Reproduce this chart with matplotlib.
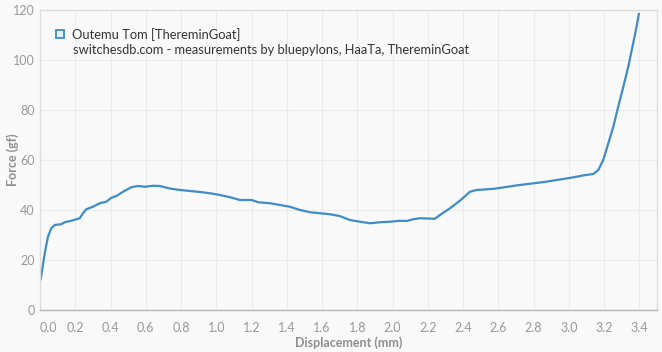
import matplotlib.pyplot as plt
from matplotlib.lines import Line2D

# force curve (displacement mm, force gf)
disp = [0.004, 0.027, 0.045, 0.064, 0.083, 0.12, 0.14, 0.178, 0.225, 0.244,
        0.263, 0.30, 0.339, 0.376, 0.405, 0.433, 0.471, 0.518, 0.556, 0.594,
        0.641, 0.679, 0.736, 0.794, 0.851, 0.908, 0.964, 1.021, 1.078, 1.134,
        1.20, 1.238, 1.305, 1.361, 1.418, 1.475, 1.531, 1.588, 1.645, 1.70,
        1.758, 1.815, 1.872, 1.928, 1.985, 2.042, 2.08, 2.117, 2.155, 2.24,
        2.269, 2.326, 2.382, 2.439, 2.477, 2.577, 2.71, 2.86, 3.012, 3.087,
        3.139, 3.167, 3.195, 3.224, 3.252, 3.280, 3.309, 3.337, 3.365, 3.384,
        3.397]
force = [12.3, 22.7, 29.3, 32.7, 34.0, 34.3, 35.1, 35.7, 36.7, 38.7,
         40.3, 41.3, 42.7, 43.3, 44.9, 45.6, 47.3, 49.1, 49.6, 49.3,
         49.7, 49.6, 48.6, 48.0, 47.6, 47.2, 46.7, 46.0, 45.1, 44.0,
         44.0, 43.1, 42.7, 42.0, 41.3, 40.0, 39.1, 38.7, 38.3, 37.6,
         36.0, 35.3, 34.7, 35.1, 35.3, 35.7, 35.6, 36.3, 36.7, 36.5,
         38.0, 40.7, 43.7, 47.3, 48.0, 48.5, 49.9, 51.2, 52.9, 53.9,
         54.4, 56.0, 60.0, 66.7, 73.3, 81.3, 89.3, 97.3, 106.7, 113.3,
         118.4]

series_name = "Outemu Tom [ThereminGoat]"
source = "switchesdb.com - measurements by bluepylons, HaaTa, ThereminGoat"
xticks = [0.0, 0.2, 0.4, 0.6, 0.8, 1.0, 1.2, 1.4, 1.6, 1.8, 2.0, 2.2, 2.4,
          2.6, 2.8, 3.0, 3.2, 3.4]
yticks = [0, 20, 40, 60, 80, 100, 120]

blue = '#3f8cc6'
bg = '#f9f9f9'
plt.rcParams['font.family'] = ['Lato', 'DejaVu Sans']

fig = plt.figure(figsize=(6.62, 3.52), dpi=100, facecolor=bg)
ax = fig.add_axes([40 / 662, 42 / 352, 617 / 662, 300 / 352])
ax.set_facecolor(bg)

ax.plot(disp, force, color=blue, lw=1.6, solid_joinstyle='round')

ax.set_xlim(0, 3.5)
ax.set_ylim(0, 120)
ax.set_xticks(xticks)
ax.set_xticklabels(['%.1f' % t for t in xticks])
ax.set_yticks(yticks)
ax.tick_params(length=0, labelsize=9, labelcolor='#9a9a9a')
ax.tick_params(axis='x', pad=9)
ax.tick_params(axis='y', pad=4)
ax.get_xticklabels()[0].set_ha('left')
ax.grid(color='#ececec', lw=0.8)
ax.set_axisbelow(True)

for s in ['top', 'right', 'left']:
    ax.spines[s].set_color('#dddddd')
    ax.spines[s].set_linewidth(1)
ax.spines['bottom'].set_color('#b5b5b5')
ax.spines['bottom'].set_linewidth(1)

ax.set_xlabel('Displacement (mm)', fontsize=9, fontweight='bold',
              color='#8f8f8f', va='center')
ax.xaxis.set_label_coords(0.5, -0.11)
ax.set_ylabel('Force (gf)', fontsize=9, fontweight='bold', color='#8f8f8f',
              va='center')
ax.yaxis.set_label_coords(-0.045, 0.5)

handle = Line2D([], [], ls='none', marker='s', ms=5.5, mew=1.3,
                mec=blue, mfc='#e6eef6')
leg = ax.legend([handle], [series_name], loc='upper left',
                bbox_to_anchor=(0.018, 0.957), frameon=False, fontsize=9.3,
                handlelength=0.6, handletextpad=0.6, borderaxespad=0)
for t in leg.get_texts():
    t.set_color('#333333')
ax.text(0.054, 0.867, source, transform=ax.transAxes, fontsize=9.3,
        color='#333333', va='center')

fig.savefig('out.png', dpi=100, facecolor=bg)
